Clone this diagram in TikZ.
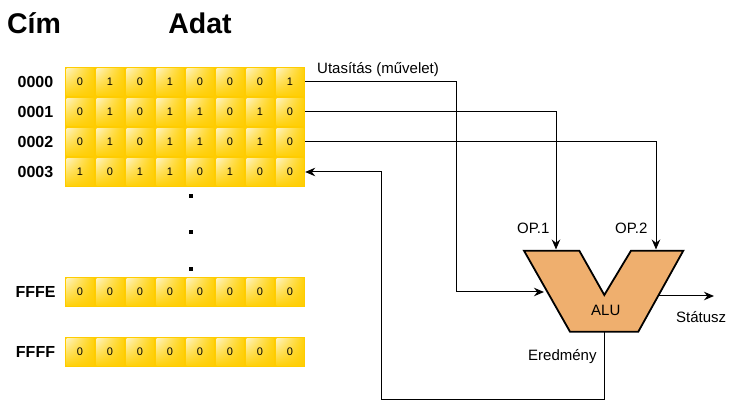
\documentclass[tikz,border=0pt]{standalone}
\usepackage{fontspec}
\setmainfont{Liberation Sans}
\usetikzlibrary{arrows.meta,shadings}
\definecolor{memyel}{HTML}{FFCC00}
\definecolor{glosshi}{HTML}{FFF3BE}
\definecolor{glossmid}{HTML}{FFD20E}
\definecolor{glosslo}{HTML}{FFCD04}
\definecolor{alufill}{HTML}{EFAF6E}
\begin{document}
\begin{tikzpicture}[x=1pt,y=-1pt,
  rowbox/.style={fill=memyel, draw=none, minimum width=240pt, minimum height=30pt, inner sep=0pt},
  cell/.style={minimum width=27pt, minimum height=27pt, inner sep=0pt,
    upper left=glosshi, upper right=glossmid, lower left=glossmid, lower right=glosslo,
    font=\fontsize{11}{11}\selectfont},
  addr/.style={font=\bfseries\fontsize{16}{16}\selectfont, anchor=base},
  head/.style={font=\bfseries\fontsize{28.5}{28.5}\selectfont, anchor=base},
  lbl/.style={font=\fontsize{15}{15}\selectfont, anchor=base west, inner sep=0pt},
  wire/.style={draw=black, line width=1pt},
  arr/.style={wire, -{Stealth[length=10pt,width=8.5pt]}},
  dotmark/.style={fill=black, draw=none, minimum size=4pt, inner sep=0pt}]
\useasboundingbox (0,0) rectangle (732,414);
% headers
\node[head] (cim) at (34,34) {Cím};
\node[head] (adat) at (200,34) {Adat};
% memory rows
\foreach \name/\yc/\lab/\bits in {
  row0/82/0000/{0,1,0,1,0,0,0,1},
  row1/112/0001/{0,1,0,1,1,0,1,0},
  row2/142/0002/{0,1,0,1,1,0,1,0},
  row3/172/0003/{1,0,1,1,0,1,0,0},
  row4/292/FFFE/{0,0,0,0,0,0,0,0},
  row5/352/FFFF/{0,0,0,0,0,0,0,0}}{
  \node[rowbox] (\name) at (185,\yc) {};
  \node[addr] (\name-addr) at (35.5,\yc+6) {\lab};
  \foreach \b [count=\i from 0] in \bits {
    \node[cell] (\name-c\i) at (65+15+30*\i,\yc) {\b};
  }
}
% dots
\node[dotmark] (d1) at (191,196) {};
\node[dotmark] (d2) at (191,232) {};
\node[dotmark] (d3) at (191,269) {};
% ALU
\coordinate (a1) at (524,250.7);
\coordinate (a2) at (579.3,250.7);
\coordinate (a3) at (604.3,295);
\coordinate (a4) at (631,250.7);
\coordinate (a5) at (683.3,250.7);
\coordinate (a6) at (638.3,331.7);
\coordinate (a7) at (570,331.7);
\draw[fill=alufill, line width=1.8pt, line join=miter] (a1) -- (a2) -- (a3) -- (a4) -- (a5) -- (a6) -- (a7) -- cycle;
\node[lbl] (alu) at (591,316) {ALU};
% connection points
\coordinate (op1in) at (556,249.5);
\coordinate (op2in) at (656,249.5);
\coordinate (bend0) at (456,292);
\coordinate (insin) at (544,292);
\coordinate (aluout) at (604,332);
\coordinate (ret) at (381,400);
\coordinate (stin) at (658,296);
\coordinate (stout) at (714,296);
% connectors
\draw[arr] (row0.east) -| (bend0) -- (insin);
\draw[arr] (row1.east) -| (op1in);
\draw[arr] (row2.east) -| (op2in);
\draw[arr] (aluout) |- (ret) |- (row3.east);
\draw[arr] (stin) -- (stout);
% labels
\node[lbl] (lutas) at (317,74) {Utasítás (művelet)};
\node[lbl] (lop1) at (517,234) {OP.1};
\node[lbl] (lop2) at (615,234) {OP.2};
\node[lbl] (lstat) at (676,323) {Státusz};
\node[lbl] (lered) at (528,361) {Eredmény};
\end{tikzpicture}
\end{document}
